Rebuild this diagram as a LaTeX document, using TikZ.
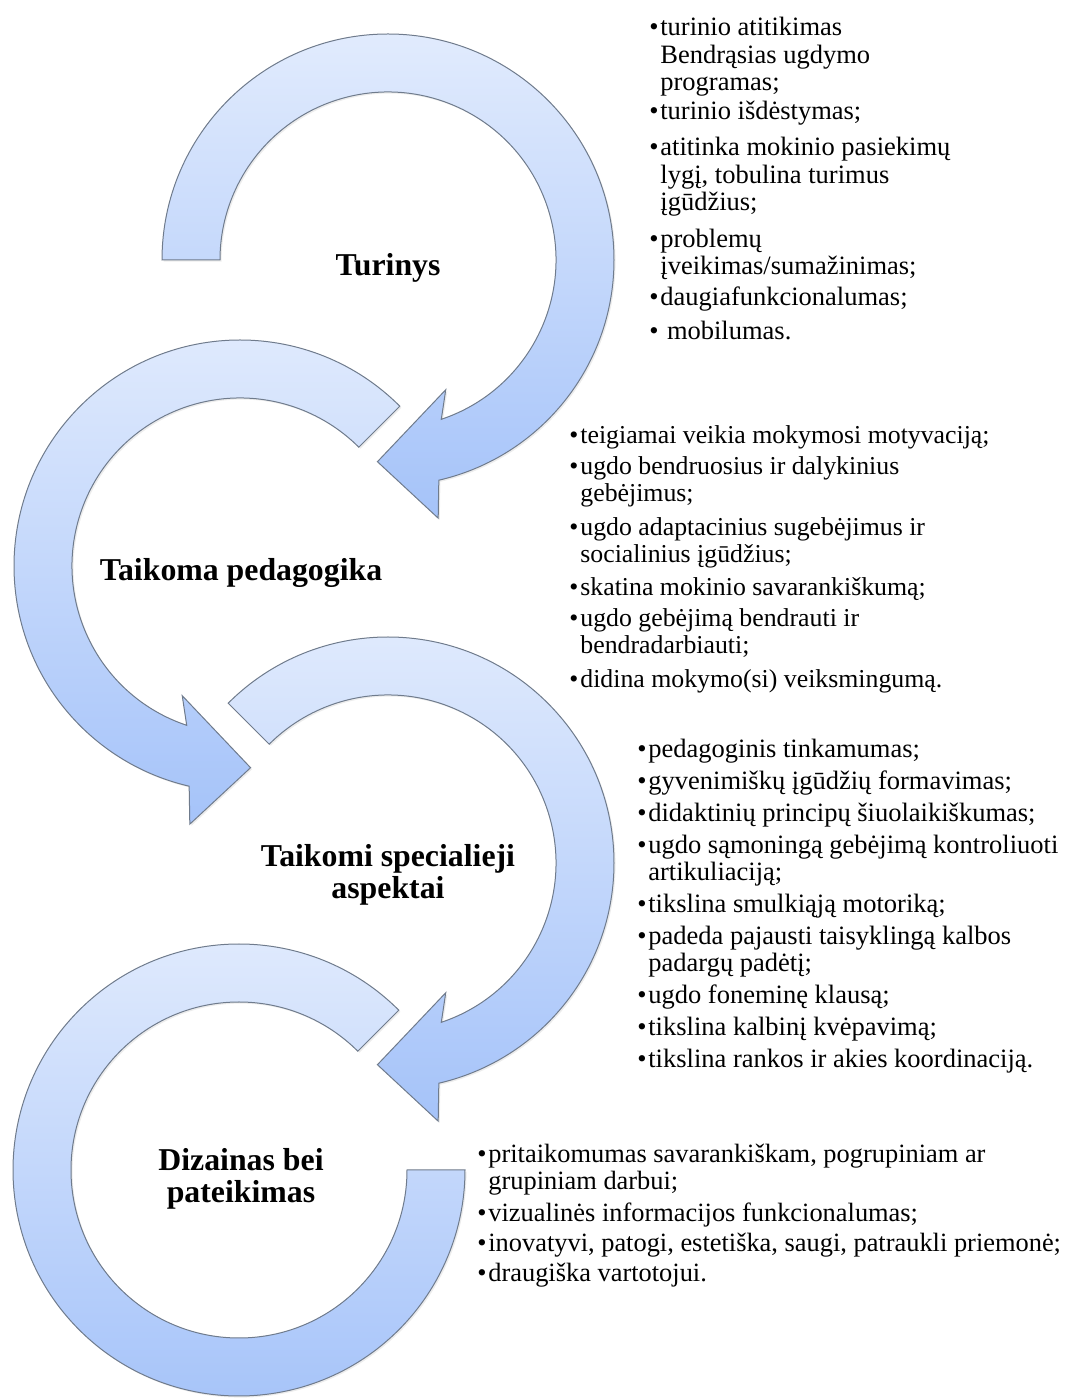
\documentclass[tikz,border=0pt]{standalone}
\usepackage{fontspec}
\setmainfont{Liberation Serif}
\usetikzlibrary{shadows}
\definecolor{arrowtop}{HTML}{E1EBFD}
\definecolor{arrowbot}{HTML}{A5C3F9}
\definecolor{arrowline}{HTML}{6F7B8C}
\newcommand{\itm}{\makebox[5.5pt][l]{\textbullet}}
\newcommand{\hng}{\hspace*{5.5pt}}

\begin{document}
\begin{tikzpicture}[x=0.5pt, y=0.5pt,
    arrowbody/.style={draw=arrowline, line width=0.5pt, top color=arrowtop, bottom color=arrowbot, drop shadow={opacity=0.15, shadow xshift=0.8pt, shadow yshift=-0.8pt}},
    lbl/.style={font=\bfseries\fontsize{15.9}{15.75}\selectfont, align=center, inner sep=0pt},
    notes/.style={anchor=north west, align=left, inner sep=0pt}
]
\useasboundingbox (0,0) rectangle (1073,1399);
\begin{scope}[shift={(388,1139)}]
\path[arrowbody] (180:168) -- (180:226) arc[start angle=180, end angle=-77, radius=226] -- (-79:263) -- (-93:202) -- (-66:142) -- (-71.5:168) arc[start angle=-71.5, end angle=180, radius=168] -- cycle;
\end{scope}
\begin{scope}[shift={(240,833)}]
\path[arrowbody] (45:168) -- (45:226) arc[start angle=45, end angle=257, radius=226] -- (259:263) -- (273:202) -- (246:142) -- (251.5:168) arc[start angle=251.5, end angle=45, radius=168] -- cycle;
\end{scope}
\begin{scope}[shift={(388,536)}]
\path[arrowbody] (135:168) -- (135:226) arc[start angle=135, end angle=-77, radius=226] -- (-79:263) -- (-93:202) -- (-66:142) -- (-71.5:168) arc[start angle=-71.5, end angle=135, radius=168] -- cycle;
\end{scope}
\begin{scope}[shift={(239,229)}]
\path[arrowbody] (45:168) -- (45:226) arc[start angle=45, end angle=360, radius=226] -- (360:168) arc[start angle=360, end angle=45, radius=168] -- cycle;
\end{scope}

\node[lbl] (tur) at (388,1131) {Turinys};
\node[lbl] (ped) at (241,826) {Taikoma pedagogika};
\node[lbl] (spec) at (388,524) {Taikomi specialieji\\aspektai};
\node[lbl] (diz) at (241,220) {Dizainas bei\\pateikimas};

\node[notes, font=\fontsize{13.25}{13.75}\selectfont] (turlist) at (649,1382) {%
\itm turinio atitikimas\\
\hng Bendrąsias ugdymo\\
\hng programas;\\[0.5pt]
\itm turinio išdėstymas;\\[4.5pt]
\itm atitinka mokinio pasiekimų\\
\hng lygį, tobulina turimus\\
\hng įgūdžius;\\[4.5pt]
\itm problemų\\
\hng įveikimas/sumažinimas;\\[1.5pt]
\itm daugiafunkcionalumas;\\[3.5pt]
\itm\ mobilumas.};

\node[notes, font=\fontsize{12.9}{13.5}\selectfont] (pedlist) at (569,974) {%
\itm teigiamai veikia mokymosi motyvaciją;\\[2pt]
\itm ugdo bendruosius ir dalykinius\\
\hng gebėjimus;\\[3.5pt]
\itm ugdo adaptacinius sugebėjimus ir\\
\hng socialinius įgūdžius;\\[3pt]
\itm skatina mokinio savarankiškumą;\\[2pt]
\itm ugdo gebėjimą bendrauti ir\\
\hng bendradarbiauti;\\[3.5pt]
\itm didina mokymo(si) veiksmingumą.};

\node[notes, font=\fontsize{13.25}{13.5}\selectfont] (speclist) at (637,660) {%
\itm pedagoginis tinkamumas;\\[2.5pt]
\itm gyvenimiškų įgūdžių formavimas;\\[2.5pt]
\itm didaktinių principų šiuolaikiškumas;\\[2.5pt]
\itm ugdo sąmoningą gebėjimą kontroliuoti\\
\hng artikuliaciją;\\[2.5pt]
\itm tikslina smulkiąją motoriką;\\[2.5pt]
\itm padeda pajausti taisyklingą kalbos\\
\hng padargų padėtį;\\[2.5pt]
\itm ugdo foneminę klausą;\\[2.5pt]
\itm tikslina kalbinį kvėpavimą;\\[2.5pt]
\itm tikslina rankos ir akies koordinaciją.};

\node[notes, font=\fontsize{13.2}{13.5}\selectfont] (dizlist) at (477,255) {%
\itm pritaikomumas savarankiškam, pogrupiniam ar\\
\hng grupiniam darbui;\\[2.5pt]
\itm vizualinės informacijos funkcionalumas;\\[1.5pt]
\itm inovatyvi, patogi, estetiška, saugi, patraukli priemonė;\\[1.5pt]
\itm draugiška vartotojui.};
\end{tikzpicture}
\end{document}
